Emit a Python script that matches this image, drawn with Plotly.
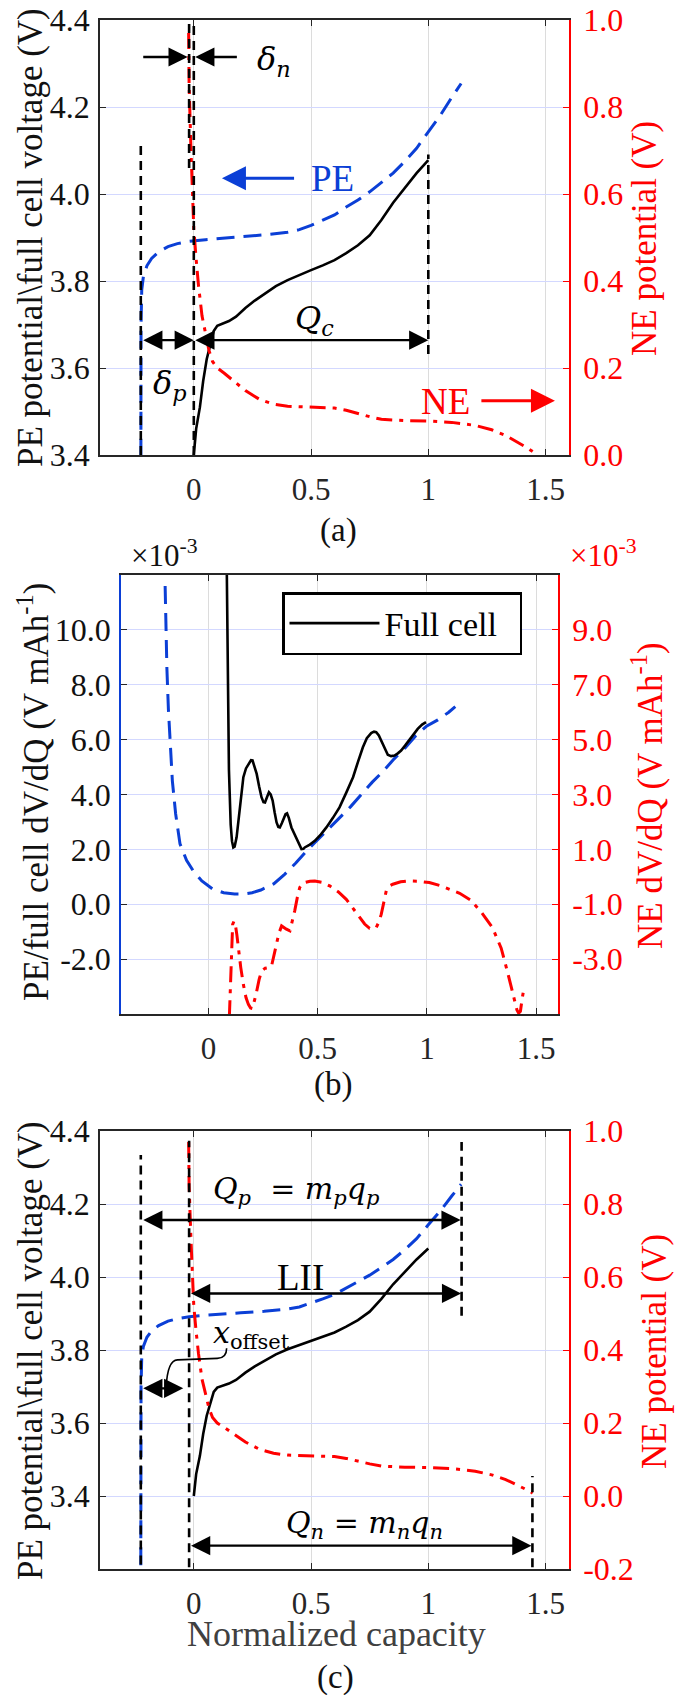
import plotly.graph_objects as go

# ------------------------------------------------------------------ data
# (a)/(c) potentials vs normalized capacity
pe_x = [-0.226, -0.226, -0.225, -0.222, -0.215, -0.2, -0.18, -0.15, -0.11, -0.07, -0.02, 0.05, 0.12, 0.2,
        0.3, 0.4, 0.45, 0.5, 0.55, 0.6, 0.65, 0.7, 0.75, 0.8, 0.85, 0.9, 0.95, 1.0, 1.05, 1.1, 1.14]
pe_v = [3.21, 3.5, 3.7, 3.78, 3.81, 3.835, 3.852, 3.867, 3.879, 3.886, 3.891, 3.895, 3.899, 3.902,
        3.906, 3.912, 3.918, 3.928, 3.94, 3.952, 3.97, 3.986, 4.005, 4.026, 4.048, 4.075, 4.105, 4.143,
        4.18, 4.222, 4.254]

full_x = [0, 0.01, 0.026, 0.04, 0.055, 0.07, 0.085, 0.1, 0.12, 0.15, 0.18, 0.22, 0.26, 0.3, 0.35, 0.4,
          0.45, 0.5, 0.55, 0.6, 0.65, 0.7, 0.75, 0.8, 0.85, 0.9, 0.95, 1.0]
full_v = [3.40, 3.46, 3.51, 3.57, 3.62, 3.655, 3.685, 3.697, 3.701, 3.708, 3.718, 3.738, 3.755, 3.770,
          3.788, 3.802, 3.814, 3.825, 3.836, 3.848, 3.864, 3.882, 3.905, 3.94, 3.98, 4.015, 4.048, 4.078]

ne_x = [-0.022, -0.02, -0.012, -0.005, 0.0, 0.01, 0.02, 0.035, 0.05, 0.065, 0.08, 0.1, 0.13, 0.17, 0.22,
        0.28, 0.34, 0.4, 0.5, 0.6, 0.65, 0.7, 0.75, 0.8, 0.85, 0.9, 1.0, 1.1, 1.2, 1.27, 1.33, 1.38, 1.42,
        1.445]
ne_v = [0.97, 0.85, 0.7, 0.6, 0.52, 0.45, 0.39, 0.32, 0.28, 0.24, 0.215, 0.2, 0.188, 0.17, 0.148, 0.128,
        0.117, 0.112, 0.11, 0.108, 0.103, 0.095, 0.088, 0.082, 0.08, 0.079, 0.078, 0.075, 0.068, 0.058,
        0.045, 0.03, 0.017, 0.008]

# (b) dV/dQ (values in units of 1e-3 V mAh^-1)
dq_pe_x = [-0.198, -0.195, -0.19, -0.183, -0.175, -0.165, -0.15, -0.13, -0.1, -0.068, -0.03, 0.02, 0.07,
           0.12, 0.16, 0.2, 0.24, 0.3, 0.35, 0.4, 0.45, 0.5, 0.55, 0.6, 0.65, 0.7, 0.75, 0.8, 0.85, 0.9,
           0.95, 1.0, 1.05, 1.1, 1.13]
dq_pe = [11.6, 10.3, 8.6, 7.1, 5.8, 4.5, 3.3, 2.2, 1.6, 1.2, 0.85, 0.55, 0.42, 0.37, 0.37, 0.42, 0.52,
         0.75, 1.1, 1.5, 1.95, 2.35, 2.75, 3.15, 3.55, 4.0, 4.45, 4.85, 5.3, 5.7, 6.15, 6.5, 6.72, 7.0, 7.2]

dq_full_x = [0.084, 0.088, 0.094, 0.102, 0.108, 0.114, 0.12, 0.129, 0.137, 0.144, 0.152, 0.16, 0.172,
             0.183, 0.195, 0.202, 0.21, 0.221, 0.232, 0.243, 0.252, 0.259, 0.268, 0.277, 0.285, 0.294,
             0.303, 0.312, 0.32, 0.327, 0.336, 0.345, 0.353, 0.36, 0.368, 0.38, 0.392, 0.403, 0.415,
             0.426, 0.435, 0.441, 0.46, 0.487, 0.515, 0.54, 0.57, 0.6, 0.63, 0.662, 0.685, 0.707, 0.725,
             0.745, 0.758, 0.768, 0.78, 0.791, 0.806, 0.821, 0.836, 0.852, 0.867, 0.882, 0.9, 0.92, 0.94,
             0.958, 0.978, 0.996]
dq_full = [12.3, 8.5, 4.9, 2.9, 2.3, 2.07, 2.1, 2.44, 3.0, 3.65, 4.2, 4.63, 4.95, 5.12, 5.25, 5.24, 5.05,
           4.75, 4.3, 3.9, 3.72, 3.71, 3.9, 4.08, 4.0, 3.78, 3.35, 2.98, 2.82, 2.80, 2.95, 3.11, 3.28,
           3.31, 3.15, 2.80, 2.6, 2.44, 2.2, 2.01, 2.02, 2.07, 2.15, 2.31, 2.55, 2.80, 3.15, 3.53, 4.05,
           4.63, 5.2, 5.72, 6.05, 6.24, 6.29, 6.27, 6.15, 5.97, 5.68, 5.45, 5.40, 5.42, 5.5, 5.60, 5.78,
           5.97, 6.2, 6.39, 6.55, 6.64]

dq_ne_x = [0.096, 0.102, 0.107, 0.111, 0.117, 0.122, 0.13, 0.137, 0.148, 0.16, 0.172, 0.183, 0.193, 0.202,
           0.21, 0.221, 0.232, 0.243, 0.26, 0.274, 0.289, 0.3, 0.312, 0.323, 0.335, 0.345, 0.357, 0.373,
           0.385, 0.395, 0.407, 0.418, 0.43, 0.441, 0.465, 0.487, 0.52, 0.555, 0.595, 0.631, 0.662, 0.692,
           0.715, 0.738, 0.755, 0.768, 0.78, 0.791, 0.803, 0.814, 0.83, 0.844, 0.88, 0.92, 0.96, 1.011,
           1.06, 1.103, 1.15, 1.2, 1.25, 1.3, 1.34, 1.37, 1.395, 1.412, 1.42, 1.428, 1.435, 1.443]
dq_ne = [-5.08, -3.44, -2.3, -1.73, -1.62, -1.67, -2.1, -2.58, -3.3, -3.92, -4.4, -4.65, -4.78, -4.80,
         -4.55, -4.17, -3.75, -3.44, -3.33, -3.31, -3.25, -2.85, -2.46, -2.05, -1.79, -1.85, -1.91, -1.97,
         -1.6, -1.24, -0.75, -0.39, -0.25, -0.21, -0.16, -0.15, -0.2, -0.33, -0.55, -0.82, -1.15, -1.49,
         -1.72, -1.88, -1.9, -1.85, -1.65, -1.37, -0.9, -0.51, -0.33, -0.27, -0.18, -0.15, -0.16, -0.21,
         -0.32, -0.45, -0.6, -0.85, -1.3, -1.85, -2.6, -3.5, -4.3, -4.85, -4.97, -4.9, -4.5, -4.1]

# tick values / labels
x_ticks = [0, 0.5, 1, 1.5]
x_tick_text = ["0", "0.5", "1", "1.5"]
va_ticks = [3.4, 3.6, 3.8, 4.0, 4.2, 4.4]
ne_a_ticks = [0.0, 0.2, 0.4, 0.6, 0.8, 1.0]
dq_left_ticks = [-2, 0, 2, 4, 6, 8, 10]
dq_right_ticks = [-3, -1, 1, 3, 5, 7, 9]
ne_c_ticks = [-0.2, 0.0, 0.2, 0.4, 0.6, 0.8, 1.0]

# annotation markers (capacity positions)
x_pe0 = -0.226     # PE start
x_ne0 = -0.02      # NE start
x_pe1 = 1.142      # PE end
x_ne1 = 1.444      # NE end

# ------------------------------------------------------------------ style
SERIF = "Liberation Serif, Times New Roman, serif"
MATH = "DejaVu Serif, serif"
BLUE = "#0b3fd6"
RED = "#ff0000"
DARK = "#262626"
W, H = 689, 1695


def fmt(v):
    return f"{v:.1f}"


def xdom(p0, p1):
    return [p0 / W, p1 / W]


def ydom(p0, p1):
    return [1 - p1 / H, 1 - p0 / H]


tickfont_x = dict(family=SERIF, size=31, color=DARK)
tickfont_y = dict(family=SERIF, size=32, color="#111111")
tickfont_r = dict(family=SERIF, size=32, color=RED)

fig = go.Figure()

PE_LINE = dict(color=BLUE, width=3, dash="18px,9px")
FULL_LINE = dict(color="black", width=2.6)
NE_LINE = dict(color=RED, width=3, dash="16px,7px,4px,7px")

# (a)
fig.add_trace(go.Scatter(x=pe_x, y=pe_v, mode="lines", line=PE_LINE, xaxis="x", yaxis="y", showlegend=False))
fig.add_trace(go.Scatter(x=full_x, y=full_v, mode="lines", line=FULL_LINE, xaxis="x", yaxis="y", showlegend=False))
fig.add_trace(go.Scatter(x=ne_x, y=ne_v, mode="lines", line=NE_LINE, xaxis="x", yaxis="y2", showlegend=False))
# (b)
fig.add_trace(go.Scatter(x=dq_pe_x, y=dq_pe, mode="lines", line=PE_LINE, xaxis="x2", yaxis="y3", showlegend=False))
fig.add_trace(go.Scatter(x=dq_full_x, y=dq_full, mode="lines", line=FULL_LINE, xaxis="x2", yaxis="y3",
                         name="Full cell&nbsp;&nbsp;", showlegend=True))
fig.add_trace(go.Scatter(x=dq_ne_x, y=dq_ne, mode="lines", line=NE_LINE, xaxis="x2", yaxis="y4", showlegend=False))
# (c)
fig.add_trace(go.Scatter(x=pe_x, y=pe_v, mode="lines", line=PE_LINE, xaxis="x3", yaxis="y5", showlegend=False))
fig.add_trace(go.Scatter(x=full_x, y=full_v, mode="lines", line=FULL_LINE, xaxis="x3", yaxis="y5", showlegend=False))
fig.add_trace(go.Scatter(x=ne_x, y=ne_v, mode="lines", line=NE_LINE, xaxis="x3", yaxis="y6", showlegend=False))


def xaxis(dom, anchor):
    return dict(domain=dom, anchor=anchor, range=[-0.4, 1.6], tickmode="array", tickvals=x_ticks,
                ticktext=x_tick_text, showgrid=True, gridcolor="#dcdcdc", gridwidth=1, zeroline=False,
                showline=True, linecolor=DARK, linewidth=1.6, mirror="ticks", ticks="inside", ticklen=6,
                tickcolor=DARK, tickfont=tickfont_x, ticklabelstandoff=6, automargin=False,
                ticklabeloverflow="allow")


def yleft(dom, anchor, rng, vals, color):
    return dict(domain=dom, anchor=anchor, range=rng, tickmode="array", tickvals=vals,
                ticktext=[fmt(v) for v in vals], showgrid=True, gridcolor="#d3d8ff", gridwidth=1,
                zeroline=False, showline=True, linecolor=color, linewidth=1.6, ticks="inside", ticklen=6,
                tickcolor=DARK, tickfont=tickfont_y, ticklabelstandoff=2, automargin=False,
                ticklabeloverflow="allow")


def yright(over, anchor, rng, vals):
    return dict(overlaying=over, anchor=anchor, side="right", range=rng, tickmode="array", tickvals=vals,
                ticktext=[fmt(v) for v in vals], showgrid=False, zeroline=False, showline=True,
                linecolor=RED, linewidth=1.6, ticks="inside", ticklen=6, tickcolor=RED, tickfont=tickfont_r,
                ticklabelstandoff=6, automargin=False, ticklabeloverflow="allow")


fig.update_layout(
    xaxis=xaxis(xdom(100, 569), "y"),
    xaxis2=xaxis(xdom(121, 558), "y3"),
    xaxis3=xaxis(xdom(100, 569), "y5"),
    yaxis=yleft(ydom(20, 455), "x", [3.4, 4.4], va_ticks, DARK),
    yaxis2=yright("y", "x", [0, 1], ne_a_ticks),
    yaxis3=yleft(ydom(575, 1014), "x2", [-4, 12], dq_left_ticks, BLUE),
    yaxis4=yright("y3", "x2", [-5, 11], dq_right_ticks),
    yaxis5=yleft(ydom(1131, 1569), "x3", [3.2, 4.4], va_ticks, DARK),
    yaxis6=yright("y5", "x3", [-0.2, 1.0], ne_c_ticks),
)

# ------------------------------------------------------------------ shapes: dashed guide lines
shapes = []
a_vlines = [(x_pe0, 3.4, 4.112), (x_ne0, 4.06, 4.4), (0.0, 3.4, 4.4), (1.0, 3.632, 4.091)]
c_vlines = [(x_pe0, 3.212, 4.334), (x_ne0, 3.205, 4.373), (x_pe1, 3.894, 4.37), (x_ne1, 3.205, 3.455)]
for xv, y0, y1 in a_vlines:
    shapes.append(dict(type="line", xref="x", yref="y", x0=xv, x1=xv, y0=y0, y1=y1,
                       line=dict(color="black", width=2.6, dash="9px,6px")))
for xv, y0, y1 in c_vlines:
    shapes.append(dict(type="line", xref="x3", yref="y5", x0=xv, x1=xv, y0=y0, y1=y1,
                       line=dict(color="black", width=2.6, dash="9px,6px")))
# x_offset leader
leader = "M -0.118,3.698 Q -0.112,3.772 -0.07,3.773 L 0.10,3.777 Q 0.14,3.778 0.14,3.805"
shapes.append(dict(type="path", xref="x3", yref="y5", path=leader, line=dict(color="black", width=1.6)))

# ------------------------------------------------------------------ annotations
ann = []


def arrow(xr, yr, tail, head, both=False, color="black", width=2.4):
    d = dict(xref=xr, yref=yr, axref=xr, ayref=yr, x=head[0], y=head[1], ax=tail[0], ay=tail[1],
             text="", showarrow=True, arrowhead=2, arrowsize=1.6, arrowwidth=width, arrowcolor=color,
             standoff=0, startstandoff=0)
    if both:
        d.update(arrowside="end+start", startarrowhead=2, startarrowsize=1.6)
    return d


def label(xr, yr, x, y, text, size=34, color="black", family=SERIF):
    return dict(xref=xr, yref=yr, x=x, y=y, text=text, showarrow=False,
                font=dict(family=family, size=size, color=color), xanchor="center", yanchor="middle")


# (a)
ann += [
    arrow("x", "y", (-0.222, 4.315), (x_ne0 - 0.006, 4.315)),
    arrow("x", "y", (0.19, 4.315), (0.006, 4.315)),
    arrow("x", "y", (0.434, 4.036), (0.12, 4.036), color=BLUE, width=3),
    arrow("x", "y", (x_pe0 + 0.004, 3.664), (0.0, 3.664), both=True),
    arrow("x", "y", (0.0, 3.664), (1.0, 3.664), both=True),
    arrow("x", "y", (1.22, 3.525), (1.54, 3.525), color=RED, width=3),
    label("x", "y", 0.34, 4.305, "<i>δ</i><sub><i>n</i></sub>", 32, family=MATH),
    label("x", "y", 0.59, 4.036, "PE", 37, BLUE),
    label("x", "y", -0.10, 3.562, "<i>δ</i><sub><i>p</i></sub>", 32, family=MATH),
    label("x", "y", 0.515, 3.71, "<i>Q</i><sub><i>c</i></sub>", 32, family=MATH),
    label("x", "y", 1.073, 3.524, "NE", 37, RED),
]
# (c)
ann += [
    arrow("x3", "y5", (x_pe0 + 0.004, 4.156), (x_pe1 - 0.004, 4.156), both=True),
    arrow("x3", "y5", (x_ne0 + 0.002, 3.955), (x_pe1 - 0.002, 3.955), both=True),
    arrow("x3", "y5", (x_pe0 + 0.004, 3.695), (-0.045, 3.695), both=True),
    arrow("x3", "y5", (x_ne0 + 0.002, 3.264), (x_ne1 - 0.004, 3.264), both=True),
    label("x3", "y5", 0.436, 4.236, "<i>Q</i><sub><i>p</i></sub>  = <i>m</i><sub><i>p</i></sub><i>q</i><sub><i>p</i></sub>",
          30, family=MATH),
    label("x3", "y5", 0.456, 4.0, "LII", 37),
    label("x3", "y5", 0.244, 3.842, "<i>x</i><sub>offset</sub>", 30, family=MATH),
    label("x3", "y5", 0.728, 3.322, "<i>Q</i><sub><i>n</i></sub> = <i>m</i><sub><i>n</i></sub><i>q</i><sub><i>n</i></sub>",
          30, family=MATH),
]


def ptext(px, py, text, size=35, color="black", angle=0):
    return dict(xref="paper", yref="paper", x=px / W, y=1 - py / H, text=text, showarrow=False,
                textangle=angle, font=dict(family=SERIF, size=size, color=color),
                xanchor="center", yanchor="middle")


ann += [
    ptext(30, 238, "PE potential\\full cell voltage (V)", 35, "#111111", -90),
    ptext(644, 239, "NE potential (V)", 35, RED, -90),
    ptext(33, 792, "PE/full cell dV/dQ (V mAh<sup>-1</sup>)", 35, "#111111", -90),
    ptext(647, 796, "NE dV/dQ (V mAh<sup>-1</sup>)", 35, RED, -90),
    ptext(30, 1351, "PE potential\\full cell voltage (V)", 35, "#111111", -90),
    ptext(654, 1352, "NE potential (V)", 35, RED, -90),
    ptext(164, 553, "×10<sup>-3</sup>", 31, "#111111"),
    ptext(603, 553, "×10<sup>-3</sup>", 31, RED),
    ptext(338, 530, "(a)", 33, "#111111"),
    ptext(333, 1084, "(b)", 33, "#111111"),
    ptext(336, 1634, "Normalized capacity", 36, "#404040"),
    ptext(335, 1677, "(c)", 33, "#111111"),
]

fig.update_layout(
    width=W, height=H,
    margin=dict(l=0, r=0, t=0, b=0, autoexpand=False),
    paper_bgcolor="white", plot_bgcolor="white",
    annotations=ann, shapes=shapes,
    showlegend=True,
    legend=dict(x=282 / W, y=1 - 592 / H, xanchor="left", yanchor="top", bordercolor="black",
                borderwidth=2.5, bgcolor="white", font=dict(family=SERIF, size=34, color="black"),
                itemwidth=90),
)

fig.write_html("out.html", config={"displayModeBar": False},
               post_script="document.body.style.margin='0px';document.body.style.overflow='hidden';")
